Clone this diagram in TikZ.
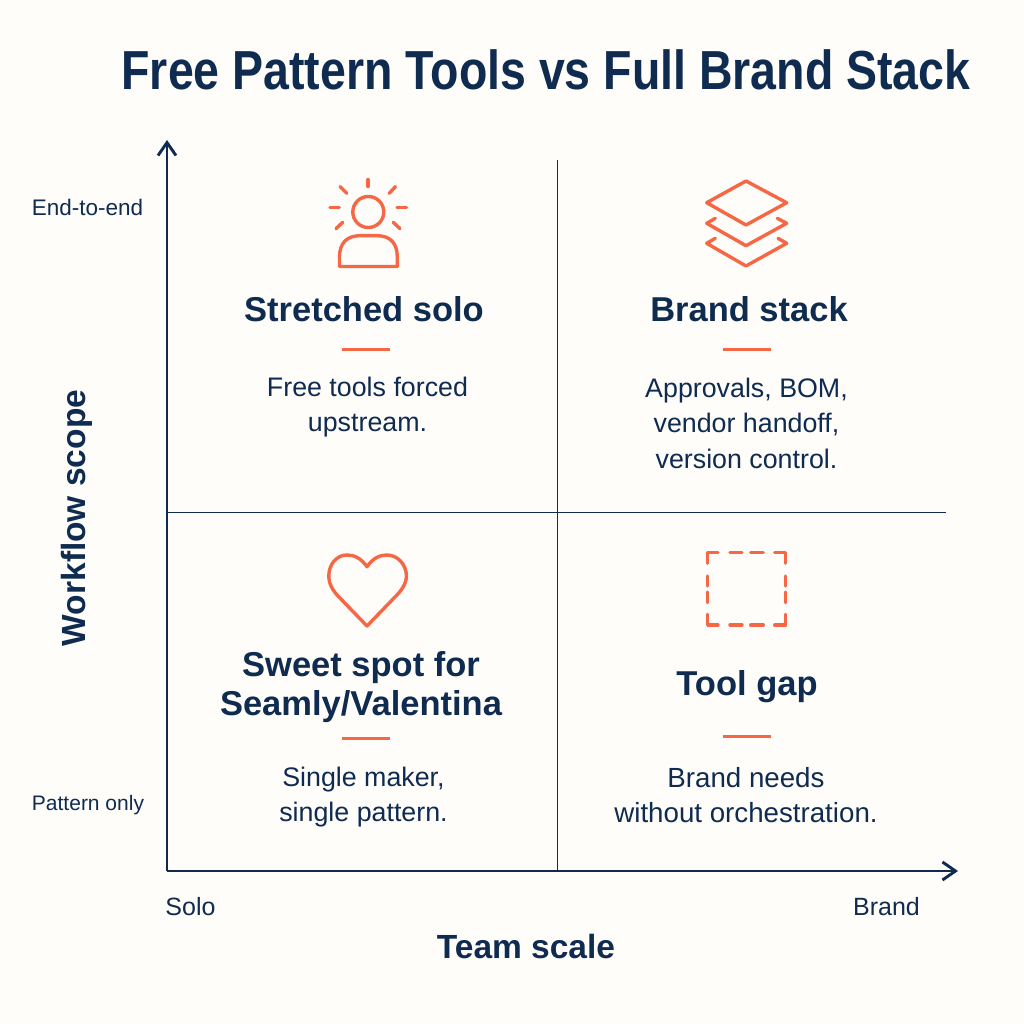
\documentclass[tikz,border=0pt]{standalone}
\usepackage{fontspec}
\setmainfont{Liberation Sans}
\newfontfamily\headfont{Liberation Sans}
\newfontfamily\titlefont{Liberation Sans}[FakeStretch=0.845]
\definecolor{navy}{HTML}{0F2B50}
\definecolor{coral}{HTML}{F66845}
\definecolor{paper}{HTML}{FEFDFA}
\usetikzlibrary{arrows.meta}
\tikzset{
  axisline/.style={navy,line width=2.7pt,-{Straight Barb[length=13pt,width=18pt,line width=2.9pt]}},
  gridline/.style={navy,line width=1pt},
  icon/.style={coral,line width=3.4pt,line cap=round,line join=round},
  rulebar/.style={coral,line width=3pt},
  ttl/.style={text=navy,font=\titlefont\bfseries\fontsize{55}{60}\selectfont,inner sep=0pt},
  heading/.style={text=navy,font=\headfont\bfseries\fontsize{34.5}{39}\selectfont,align=center,inner sep=0pt},
  body/.style={text=navy,font=\fontsize{26.8}{35.5}\selectfont,align=center,inner sep=0pt},
  widebody/.style={text=navy,font=\fontsize{27.7}{35.5}\selectfont,align=center,inner sep=0pt},
  ticklab/.style={text=navy,font=\fontsize{21}{24}\selectfont,inner sep=0pt},
  widelab/.style={text=navy,font=\fontsize{22.5}{24}\selectfont,inner sep=0pt},
  endlab/.style={text=navy,font=\fontsize{25}{28}\selectfont,inner sep=0pt},
  axislab/.style={text=navy,font=\headfont\bfseries\fontsize{33.5}{38}\selectfont,inner sep=0pt},
}
\begin{document}
\begin{tikzpicture}[x=1pt,y=-1pt]
\fill[paper] (0,0) rectangle (1024,1024);
\useasboundingbox (0,0) rectangle (1024,1024);
\node[ttl] (title) at (546,70) {Free Pattern Tools vs Full Brand Stack};
% axes
\coordinate (origin) at (167,871);
\coordinate (ytop) at (167,140);
\coordinate (xend) at (958,871);
\coordinate (vtop) at (557,160);
\coordinate (vbot) at (557,871);
\coordinate (hl) at (167,512);
\coordinate (hr) at (946,512);
\draw[gridline] (vtop) -- (vbot);
\draw[gridline] (hl) -- (hr);
\draw[axisline] (origin) -- (ytop);
\draw[axisline] (origin) -- (xend);
\node[widelab] (endtoend) at (87.5,207) {End-to-end};
\node[ticklab] (patonly) at (88,805) {Pattern only};
\node[endlab] (solo) at (190.5,907) {Solo};
\node[endlab] (brand) at (886.5,907) {Brand};
\node[axislab] (xlab) at (526,947) {Team scale};
\node[axislab,rotate=90] (ylab) at (77,518) {Workflow scope};
% quadrant text
\node[heading] (q1) at (364,309) {Stretched solo};
\node[heading] (q2) at (749,309) {Brand stack};
\node[heading] (q3) at (361,687) {Sweet spot for\\Seamly/Valentina};
\node[heading] (q4) at (747,687) {Tool gap};
\draw[rulebar] (342,349) -- (390,349);
\draw[rulebar] (723,349) -- (771,349);
\draw[rulebar] (342,738) -- (390,738);
\draw[rulebar] (723,736) -- (771,736);
\node[body] (b1) at (367.5,407) {Free tools forced\\upstream.};
\node[body] (b2) at (746.5,423) {Approvals, BOM,\\vendor handoff,\\version control.};
\node[body] (b3) at (363.5,797) {Single maker,\\single pattern.};
\node[widebody] (b4) at (746,795) {Brand needs\\without orchestration.};
% person icon
\draw[icon] (368.3,212) circle (15.5);
\draw[icon] (368,179.5) -- (368,186.5);
\draw[icon] (340,186.5) -- (346.7,193.3);
\draw[icon] (395.5,186.5) -- (389.3,193.3);
\draw[icon] (330,207.3) -- (339.3,207.3);
\draw[icon] (397,207.3) -- (406.5,207.3);
\draw[icon] (336,228.6) -- (342.7,222.3);
\draw[icon] (400,228.6) -- (393.3,222.3);
\draw[icon] (339.5,266.5) -- (339.5,257) .. controls (339.5,243) and (347,235.7) .. (360,235.7) -- (377,235.7) .. controls (390,235.7) and (397.3,243) .. (397.3,257) -- (397.3,266.5) -- cycle;
% layers icon
\draw[icon] (746,181) -- (786.7,202.7) -- (746,225) -- (706.7,202.7) -- cycle;
\draw[icon] (715.3,218.3) -- (706.7,223.3) -- (746,245.7) -- (786.7,223.3) -- (777.3,218.3);
\draw[icon] (715.3,238.3) -- (706.7,243.3) -- (746,266) -- (786.7,243.3) -- (778,238.3);
% heart icon
\draw[icon] (367,566.7) .. controls (361,558) and (354,555) .. (347,555) .. controls (336,555) and (328.8,565) .. (328.8,576) .. controls (328.8,584) and (333,591) .. (339,597) -- (367,626) -- (395,597) .. controls (401,591) and (406.4,584) .. (406.4,576) .. controls (406.4,565) and (398,555) .. (387,555) .. controls (380,555) and (373,558) .. (367,566.7) -- cycle;
% dashed square icon
\draw[icon] (707.7,563.3) -- (707.7,552.7) -- (718,552.7);
\draw[icon] (730,552.7) -- (742,552.7);
\draw[icon] (750.7,552.7) -- (763.3,552.7);
\draw[icon] (774.7,552.7) -- (785.7,552.7) -- (785.7,563.3);
\draw[icon] (707.7,576) -- (707.7,586);
\draw[icon] (707.7,592) -- (707.7,602.7);
\draw[icon] (785.7,576) -- (785.7,586);
\draw[icon] (785.7,592) -- (785.7,602.7);
\draw[icon] (707.7,614.3) -- (707.7,625) -- (718,625);
\draw[icon] (730,625) -- (742,625);
\draw[icon] (750.7,625) -- (763.3,625);
\draw[icon] (774.7,625) -- (785.7,625) -- (785.7,614.3);
\end{tikzpicture}
\end{document}
